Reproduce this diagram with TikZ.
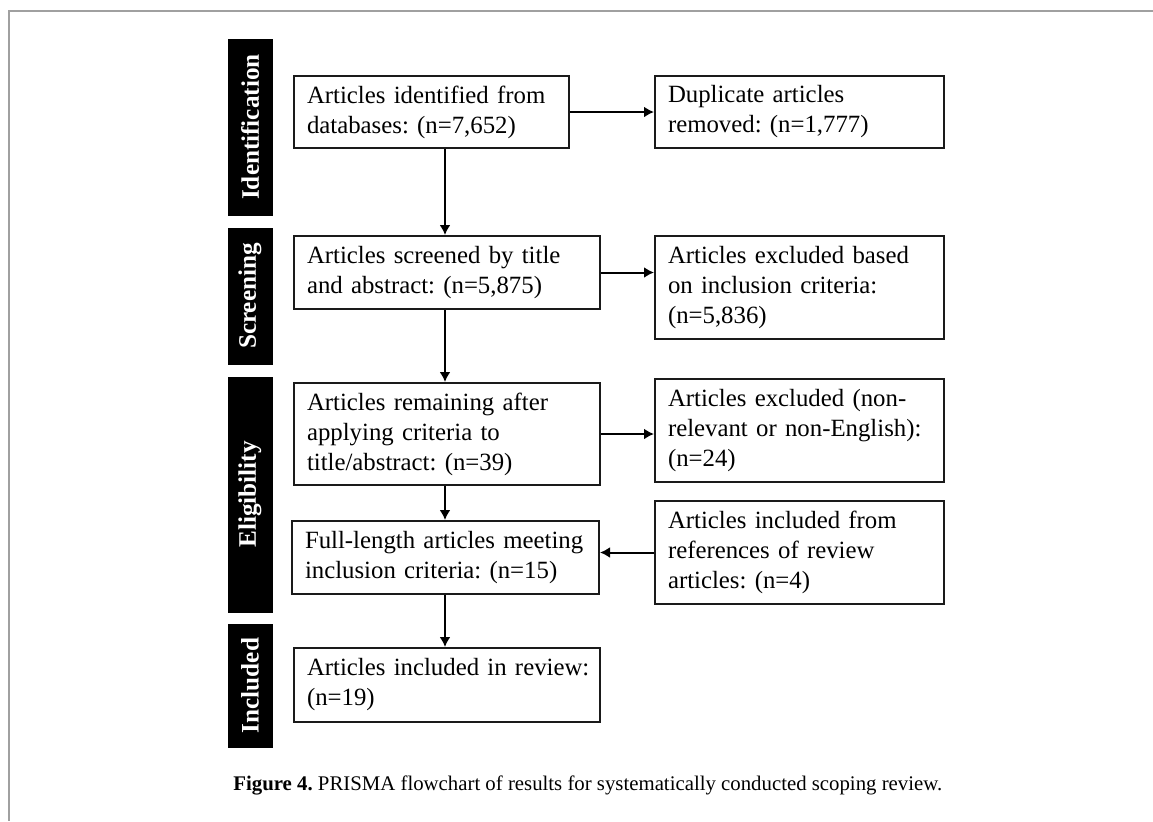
\documentclass[tikz,border=0pt]{standalone}
\usepackage{fontspec}
\setmainfont{Liberation Serif}
\usetikzlibrary{arrows.meta}
\definecolor{framegray}{HTML}{A0A0A0}
\definecolor{ink}{HTML}{1A1A1A}
\frenchspacing
\tikzset{
  box/.style={draw=ink, line width=1pt, align=left, inner xsep=6.5pt, inner ysep=0pt,
    font=\fontsize{12.4}{15}\selectfont\frenchspacing, anchor=center},
  bar/.style={fill=black, draw=black, rotate=90, minimum height=22pt, inner sep=0pt,
    text=white, font=\fontsize{12.6}{15}\selectfont\bfseries, anchor=center},
  arr/.style={draw=black, line width=1pt, -{Latex[length=5pt,width=5.5pt]}},
}
\begin{document}
\begin{tikzpicture}[x=0.5pt,y=-0.5pt]
\useasboundingbox (0,0) rectangle (1153,821);
% frame
\draw[framegray, line width=0.8pt] (8,11) -- (1153,11);
\draw[framegray, line width=0.8pt] (9,11) -- (9,821);
% side bars
\node[bar, minimum width=88pt] (lid) at (250,127) {Identification};
\node[bar, minimum width=68pt] (lscr) at (250,296) {Screening};
\node[bar, minimum width=117.5pt] (leli) at (250,494.5) {Eligibility};
\node[bar, minimum width=61.5pt] (linc) at (250,685.5) {Included};
% main boxes
\node[box, text width=124.5pt, minimum height=36pt] (b1) at (431.5,112) {Articles identified from\\databases: (n=7,652)};
\node[box, text width=140pt, minimum height=36.5pt] (b2) at (447,272.5) {Articles screened by title\\and abstract: (n=5,875)};
\node[box, text width=140pt, minimum height=51pt] (b3) at (447,434) {Articles remaining after\\applying criteria to\\title/abstract: (n=39)};
\node[box, text width=140.5pt, minimum height=36.5pt] (b4) at (445.5,557.5) {\mbox{Full-length articles meeting}\\inclusion criteria: (n=15)};
\node[box, text width=140pt, minimum height=37pt] (b5) at (447,685) {\mbox{Articles included in review:}\\(n=19)};
% right boxes
\node[box, text width=131.5pt, minimum height=36pt] (r1) at (799.5,112) {Duplicate articles\\removed: (n=1,777)};
\node[box, text width=131.5pt, minimum height=51.5pt] (r2) at (799.5,287.5) {Articles excluded based\\on inclusion criteria:\\(n=5,836)};
\node[box, text width=131.5pt, minimum height=51.5pt] (r3) at (799.5,430.5) {Articles excluded (non-\\\mbox{relevant or non-English):}\\(n=24)};
\node[box, text width=131.5pt, minimum height=51.5pt] (r4) at (799.5,552.5) {Articles included from\\references of review\\articles: (n=4)};
% connectors
\coordinate (spine) at (445,0);
\draw[arr] (b1.east) -- (r1.west);
\draw[arr] (b2.east) -- (r2.west |- b2.east);
\draw[arr] (b3.east) -- (r3.west |- b3.east);
\draw[arr] (r4.west) -- (b4.east |- r4.west);
\draw[arr] (spine |- b1.south) -- (spine |- b2.north);
\draw[arr] (spine |- b2.south) -- (spine |- b3.north);
\draw[arr] (spine |- b3.south) -- (spine |- b4.north);
\draw[arr] (spine |- b4.south) -- (spine |- b5.north);
% caption
\node[anchor=base west, inner sep=0pt, font=\fontsize{10.4}{13}\selectfont\frenchspacing] (cap) at (233,790) {\textbf{Figure 4.} PRISMA flowchart of results for systematically conducted scoping review.};
\end{tikzpicture}
\end{document}
